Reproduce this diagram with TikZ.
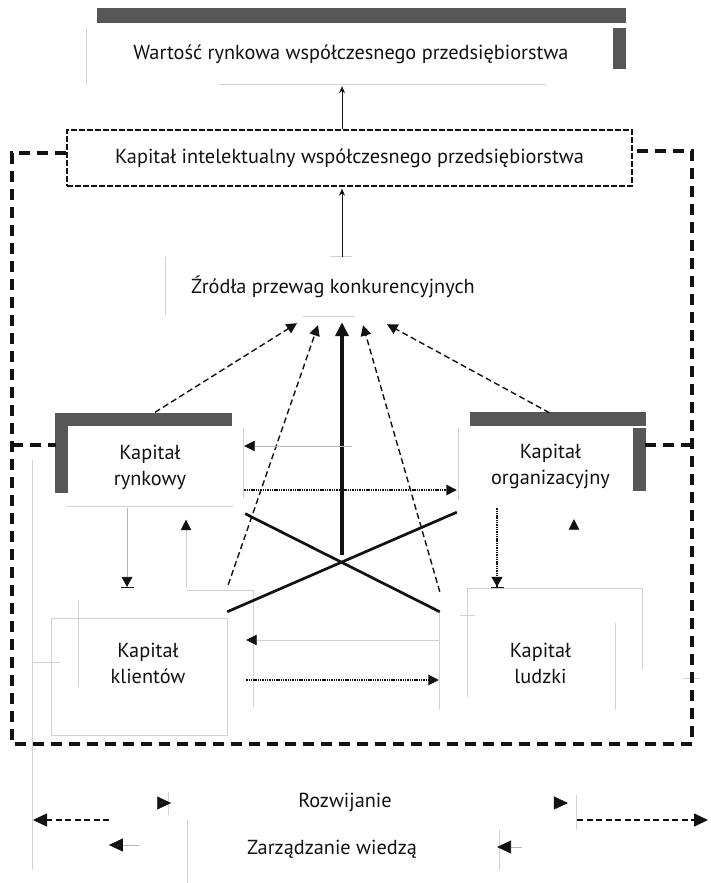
\documentclass[tikz,border=0pt]{standalone}
\usepackage{fontspec}
\setmainfont{PT Sans}
\usetikzlibrary{arrows.meta,calc}
\definecolor{ink}{HTML}{121212}
\definecolor{barfill}{HTML}{575757}
\definecolor{faint}{HTML}{D2D2D2}
\definecolor{pale}{HTML}{B5B5B5}
\begin{document}
\begin{tikzpicture}[x=1pt,y=-1pt,
  lbl/.style={font=\fontsize{20.3}{26}\selectfont, text=ink, align=center, inner sep=0pt},
  bigtip/.style={-{Triangle[length=14pt,width=13pt,color=ink]}},
  midtip/.style={-{Triangle[length=10.5pt,width=10.5pt,color=ink]}},
  smalltip/.style={-{Stealth[length=7pt,width=6pt,color=ink]}},
  bartip/.style={-{Triangle[length=10pt,width=11pt,color=ink,sep=0pt]Bar[width=13pt,color=ink,line width=1pt]}},
  frame/.style={draw=ink, line width=3.4pt, dash pattern=on 11pt off 7pt},
  pdash/.style={draw=ink, line width=1.4pt, dash pattern=on 6pt off 3.5pt},
  pdot/.style={draw=ink, line width=1.5pt, dash pattern=on 1.4pt off 0.9pt},
  thinline/.style={draw=ink, line width=0.9pt},
  heavy/.style={draw=ink, line width=3.6pt},
  cross/.style={draw=ink, line width=2.7pt},
  ghost/.style={draw=faint, line width=0.8pt},
  bar/.style={fill=barfill, draw=none}
]
\useasboundingbox (0,0) rectangle (710,883);
\fill[white] (0,0) rectangle (710,883);

% ---------- main nodes ----------
\node[lbl, minimum width=539pt, minimum height=60pt] (wart) at (351,54)
  {Wartość rynkowa współczesnego przedsiębiorstwa};
\node[lbl, minimum width=565pt, minimum height=56pt, draw=ink, line width=1.3pt,
      dash pattern=on 6pt off 2pt] (intel) at (349.5,158)
  {Kapitał intelektualny współczesnego przedsiębiorstwa};
\node[lbl, minimum width=340pt, minimum height=60pt] (zrodla) at (333,287)
  {Źródła przewag konkurencyjnych};
\node[lbl, minimum width=188pt, minimum height=81pt] (rynk) at (150,467)
  {Kapitał\\rynkowy};
\node[lbl, minimum width=187pt, minimum height=78pt] (organ) at (550.5,466)
  {Kapitał\\organizacyjny};
\node[lbl, minimum width=196pt, minimum height=150pt] (klient) at (148,663)
  {Kapitał\\klientów};
\node[lbl, minimum width=203pt, minimum height=150pt] (ludzki) at (540.5,663)
  {Kapitał\\ludzki};
\node[lbl] (rozw) at (345,802) {Rozwijanie};
\node[lbl] (zarz) at (332,849) {Zarządzanie wiedzą};

\coordinate (axis) at (342,0);
\coordinate (hub) at (342,555);

% ---------- dark bars ----------
\fill[bar] (97,8) rectangle (626,23);
\fill[bar] (613,28) rectangle (626,69);
\fill[bar] (55,413) rectangle (232,426);
\fill[bar] (55,426) rectangle (68,493);
\fill[bar] (470,412) rectangle (646,426);
\fill[bar] (633,428) rectangle (646,491);

% ---------- faint box edges ----------
\draw[ghost] (86,28) -- (86,85);
\draw[ghost] (219,84) -- (546,84);
\draw[ghost] (165,257) -- (165,315);
\draw[ghost] (303,316) -- (355,316);
\draw[ghost] (330,256) -- (352,256);
\draw[ghost] (243,428) -- (243,498);
\draw[ghost] (67,506) -- (233,506);
\draw[ghost] (458,428) -- (458,500);
\draw[ghost] (51,618) rectangle (227,735);
\draw[ghost] (78,600) -- (78,687);
\draw[ghost] (32,662) -- (60,662);
\draw[ghost] (187,590) -- (253,590) -- (253,707);
\draw[ghost] (467,697) -- (467,588) -- (642,588) -- (642,670);
\draw[ghost] (615,623) -- (615,710);
\draw[ghost] (439,612) -- (439,710);
\draw[ghost] (460,615) -- (475,615);
\draw[ghost] (683,678) -- (700,678);
\draw[ghost] (32,460) -- (32,870);
\draw[ghost] (187,820) -- (187,883);
\draw[ghost] (499,830) -- (499,870);
\draw[ghost] (576,795) -- (576,830);
\draw[ghost] (168,792) -- (168,815);

% ---------- outer dashed frame ----------
\draw[frame] ($(intel.west)+(0,-5)$) -- (12,153) -- (12,744) -- (692,744)
  -- (692,151) -- ($(intel.east)+(0,-7)$);
\draw[frame] (12,445) -- (rynk.west |- 0,445);
\draw[frame] (692,445) -- ($(organ.east |- 0,445)+(-6,0)$);

% ---------- vertical chain ----------
\draw[thinline, smalltip] (axis |- intel.north) -- ($(axis |- wart.south)+(0,2)$);
\draw[thinline, smalltip] (axis |- zrodla.north) -- ($(axis |- intel.south)+(0,2)$);
\draw[heavy, bigtip] (hub) -- ($(axis |- zrodla.south)+(0,5)$);

% ---------- arrows into the sources of advantage ----------
\draw[pdash, midtip] ($(rynk.north)+(5,-14)$) -- ($(zrodla.south)+(-36,6)$);
\draw[pdash, midtip] ($(klient.north east)+(-18,-3)$) -- ($(zrodla.south)+(-15,8)$);
\draw[pdash, midtip] ($(ludzki.north west)+(1,4)$) -- ($(zrodla.south)+(30,8)$);
\draw[pdash, midtip] ($(organ.north)+(-1,-14)$) -- ($(zrodla.south)+(54,7)$);

% ---------- cross of mutual influences ----------
\draw[cross] ($(rynk.south east)+(1,6)$) -- ($(ludzki.north west)+(1,24)$);
\draw[cross] ($(organ.south west)+(0,7)$) -- ($(klient.north east)+(-19,24)$);

% ---------- horizontal links ----------
\draw[draw=pale, line width=0.8pt, midtip] (352,446) -- (rynk.east |- 0,446);
\draw[pdot, midtip] (rynk.east |- 0,490) -- (organ.west |- 0,490);
\draw[draw=faint, line width=0.8pt, midtip] (ludzki.west |- 0,640) -- ($(klient.east |- 0,640)$);
\draw[pdot, midtip] (klient.east |- 0,680) -- (ludzki.west |- 0,680);

% ---------- vertical links ----------
\draw[thinline, draw=pale, bartip] (rynk.south -| 127,0) -- (klient.north -| 127,0);
\draw[draw=faint, line width=0.8pt, midtip] (klient.north -| 186,0) -- ($(rynk.south -| 186,0)+(0,12)$);
\draw[pdot, line width=1.2pt, bartip] ($(organ.south -| 497,0)+(0,3)$) -- (ludzki.north -| 497,0);
\draw[draw=white, line width=0.5pt, midtip] (ludzki.north -| 574,0) -- ($(organ.south -| 574,0)+(0,14)$);

% ---------- knowledge management ----------
\draw[draw=white, bigtip] ($(rozw.west)+(-152,1)$) -- ($(rozw.west)+(-127,1)$);
\draw[draw=white, bigtip] ($(rozw.east)+(152,1)$) -- ($(rozw.east)+(176,1)$);
\draw[draw=pale, line width=0.8pt, bigtip] ($(zarz.west)+(-108,-4)$) -- ($(zarz.west)+(-138,-4)$);
\draw[draw=pale, line width=0.8pt, bigtip] ($(zarz.east)+(105,-2)$) -- ($(zarz.east)+(80,-2)$);
\draw[pdash, line width=1.6pt, bigtip] (109,820) -- (33,820);
\draw[pdash, line width=1.6pt, bigtip] (577,820) -- (708,820);
\end{tikzpicture}
\end{document}
